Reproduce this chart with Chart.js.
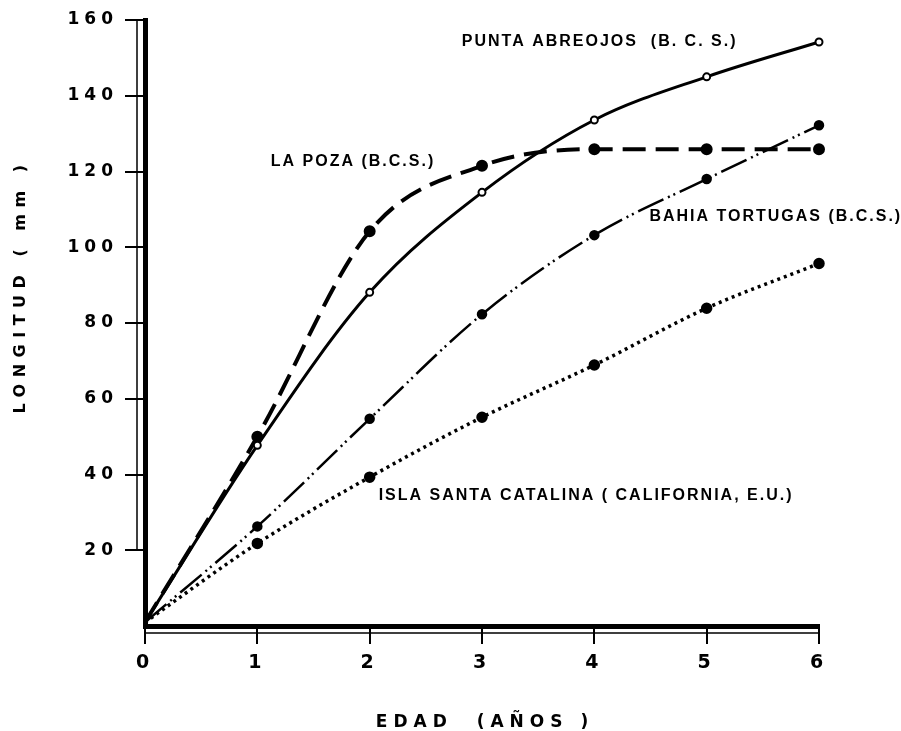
<!DOCTYPE html>
<html>
<head>
<meta charset="utf-8">
<script src="https://cdn.jsdelivr.net/npm/chart.js@4"></script>
<style>
    html, body { margin: 0; padding: 0; background: #fff; }
    #wrap { width: 901px; height: 731px; }
</style>
</head>
<body>
<div id="wrap"><canvas id="growthChart"></canvas></div>
<script>
// Edad (años) and longitud (mm)
const ages = [0, 1, 2, 3, 4, 5, 6];
const puntaAbreojos = [1, 47.7, 88.1, 114.5, 133.6, 145.0, 154.2];
const laPoza = [1, 50.0, 104.2, 121.5, 125.9, 125.9, 125.9];
const bahiaTortugas = [1, 26.3, 54.7, 82.3, 103.2, 118.0, 132.2];
const islaSantaCatalina = [1, 21.8, 39.3, 55.1, 68.9, 83.9, 95.7];
const yTicks = [20, 40, 60, 80, 100, 120, 140, 160];
const seriesNames = [
    'PUNTA ABREOJOS  (B. C. S.)',
    'LA POZA (B.C.S.)',
    'BAHIA TORTUGAS (B.C.S.)',
    'ISLA SANTA CATALINA ( CALIFORNIA, E.U.)'
];

const FONT = '"DejaVu Sans", sans-serif';
const LABEL_FONT = '"Liberation Sans", sans-serif';

function points(values) {
    return ages.map((a, i) => ({ x: a, y: values[i] }));
}

// no marker at the origin
const markerRadius = r => ctx => ctx.dataIndex === 0 ? 0 : r;

/**
 * Draws the hand-lettered labels, axis titles and the thin lines beside the axes
 */
const inkPlugin = {
    id: 'ink',
    beforeDraw(chart) {
        chart.ctx.letterSpacing = '5px';
    },
    afterDraw(chart) {
        const { ctx, chartArea: a, scales: { x, y } } = chart;
        ctx.save();
        ctx.letterSpacing = '0px';
        ctx.strokeStyle = '#000';
        ctx.lineWidth = 1.5;
        ctx.beginPath();
        ctx.moveTo(a.left - 8, y.getPixelForValue(160));
        ctx.lineTo(a.left - 8, y.getPixelForValue(20));
        ctx.moveTo(x.getPixelForValue(0), a.bottom + 7);
        ctx.lineTo(x.getPixelForValue(6), a.bottom + 7);
        ctx.stroke();

        // series labels, placed in data units
        const spots = [
            { x: 2.82, y: 154.4 },
            { x: 1.12, y: 122.5 },
            { x: 4.49, y: 108 },
            { x: 2.08, y: 34.5 }
        ];
        ctx.fillStyle = '#000';
        ctx.font = 'bold 16px ' + LABEL_FONT;
        ctx.letterSpacing = '2px';
        ctx.textAlign = 'left';
        ctx.textBaseline = 'middle';
        seriesNames.forEach((name, i) => {
            ctx.fillText(name, x.getPixelForValue(spots[i].x), y.getPixelForValue(spots[i].y));
        });

        // axis titles
        ctx.textAlign = 'center';
        ctx.font = 'bold 17px ' + FONT;
        ctx.letterSpacing = '6px';
        ctx.fillText('EDAD  (AÑOS )', (a.left + a.right) / 2 + 3, a.bottom + 97);

        ctx.font = 'bold 16px ' + FONT;
        ctx.letterSpacing = '6.5px';
        ctx.translate(21, (a.top + a.bottom) / 2 - 34);
        ctx.rotate(-Math.PI / 2);
        ctx.fillText('LONGITUD ( mm )', 3, 0);
        ctx.restore();
    }
};

new Chart(document.getElementById('growthChart'), {
    type: 'line',
    data: {
        datasets: [
            {
                label: seriesNames[0],
                data: points(puntaAbreojos),
                borderColor: '#000',
                borderWidth: 3,
                pointRadius: markerRadius(3.5),
                pointBackgroundColor: '#fff',
                pointBorderColor: '#000',
                pointBorderWidth: 2
            },
            {
                label: seriesNames[1],
                data: points(laPoza),
                borderColor: '#000',
                borderWidth: 4,
                borderDash: [23, 10],
                pointRadius: markerRadius(4),
                pointBackgroundColor: '#000',
                pointBorderColor: '#000'
            },
            {
                label: seriesNames[2],
                data: points(bahiaTortugas),
                borderColor: '#000',
                borderWidth: 2.5,
                borderDash: [28, 5, 2, 4, 2, 5],
                pointRadius: markerRadius(4),
                pointBackgroundColor: '#000',
                pointBorderColor: '#000'
            },
            {
                label: seriesNames[3],
                data: points(islaSantaCatalina),
                borderColor: '#000',
                borderWidth: 3.5,
                borderDash: [3, 4],
                pointRadius: markerRadius(4),
                pointBackgroundColor: '#000',
                pointBorderColor: '#000'
            }
        ]
    },
    options: {
        responsive: true,
        maintainAspectRatio: false,
        animation: false,
        layout: { padding: { top: 20, right: 82, bottom: 0, left: 0 } },
        datasets: {
            line: { cubicInterpolationMode: 'monotone', clip: false }
        },
        plugins: {
            legend: { display: false },
            tooltip: { enabled: false }
        },
        scales: {
            x: {
                type: 'linear',
                min: 0,
                max: 6,
                ticks: {
                    stepSize: 1,
                    color: '#000',
                    padding: 8,
                    maxRotation: 0,
                    font: { family: FONT, size: 19, weight: 'bold' }
                },
                grid: { drawOnChartArea: false, tickLength: 18, color: '#000', lineWidth: 2 },
                border: { display: true, color: '#000', width: 5 },
                afterFit: s => { s.height = 105; }
            },
            y: {
                min: 0,
                max: 160,
                afterBuildTicks: s => { s.ticks = yTicks.map(v => ({ value: v })); },
                ticks: {
                    color: '#000',
                    padding: 7,
                    font: { family: FONT, size: 17, weight: 'bold' }
                },
                grid: { drawOnChartArea: false, tickLength: 20, color: '#000', lineWidth: 2 },
                border: { display: true, color: '#000', width: 5 },
                afterFit: s => { s.width = 145; }
            }
        }
    },
    plugins: [inkPlugin]
});
</script>
</body>
</html>
